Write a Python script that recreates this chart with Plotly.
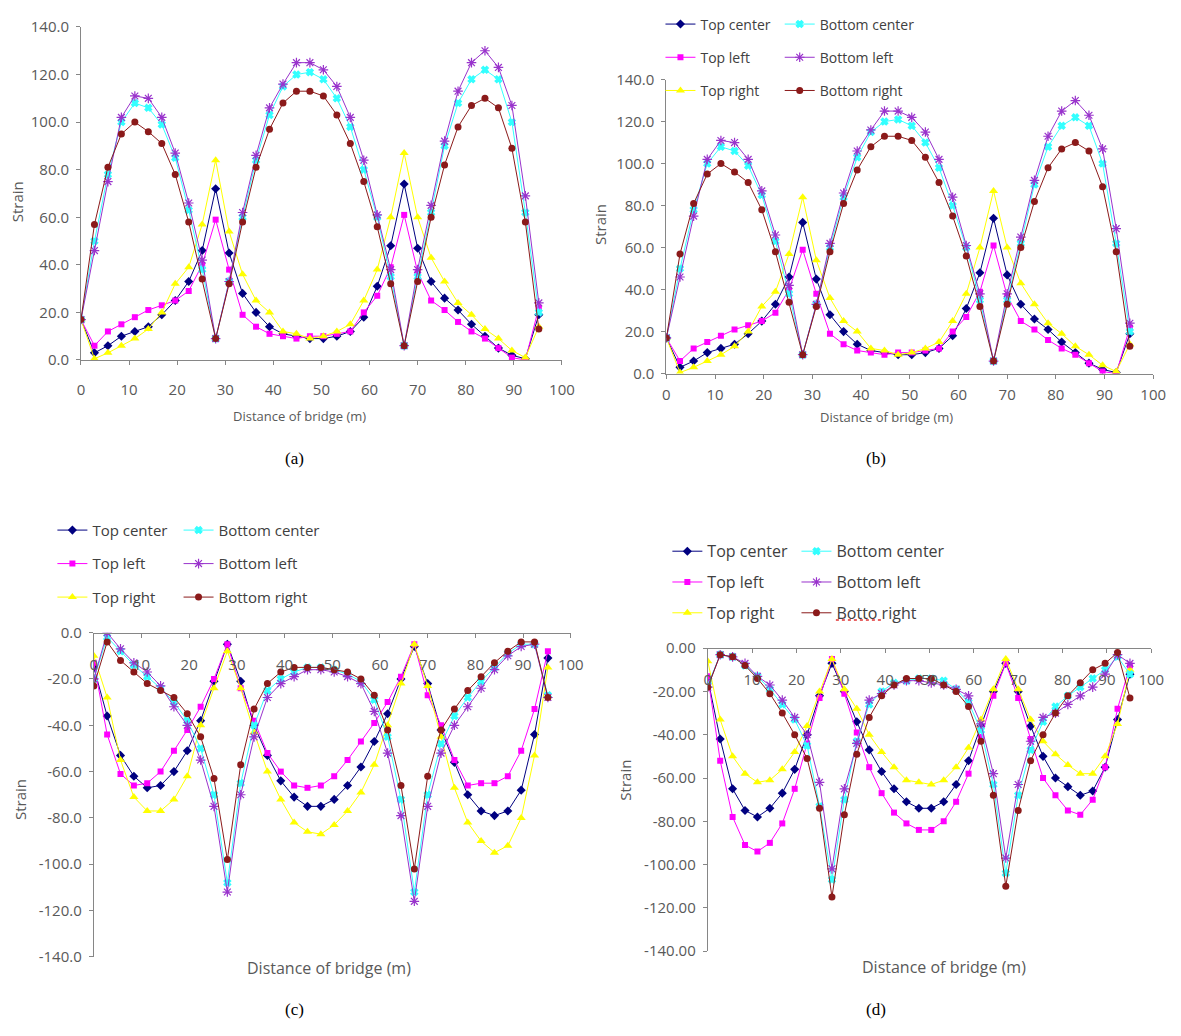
import plotly.graph_objects as go

# browser body margin (8px) is compensated for in the pixel helpers
OFF = 8
W, H = 1181 - OFF, 1036 - OFF

# ---------------- data ----------------
x_pos = [0, 2.8, 5.6, 8.4, 11.2, 14.0, 16.8, 19.6, 22.4, 25.2, 28.0, 30.8, 33.6, 36.4, 39.2,
         42.0, 44.8, 47.6, 50.4, 53.2, 56.0, 58.8, 61.6, 64.4, 67.2, 70.0, 72.8, 75.6, 78.4,
         81.2, 84.0, 86.8, 89.6, 92.4, 95.2]

series_names = ["Top center", "Top left", "Top right", "Bottom center", "Bottom left", "Bottom right"]
series_names_d = ["Top center", "Top left", "Top right", "Bottom center", "Bottom left", "Botto right"]

# panel (a)
a_top_center = [17, 3, 6, 10, 12, 14, 19, 25, 33, 46, 72, 45, 28, 20, 14, 11, 10, 9, 9, 10, 12,
                18, 31, 48, 74, 47, 33, 26, 21, 15, 10, 5, 2, 0.5, 19]
a_top_left = [17, 6, 12, 15, 18, 21, 23, 25, 29, 40, 59, 38, 19, 14, 11, 10, 9, 10, 10, 11, 12,
              20, 27, 39, 61, 37, 25, 21, 16, 12, 9, 5, 1, 0, 22]
a_top_right = [17, 0.5, 3, 6, 9, 13, 20, 32, 39, 57, 84, 54, 36, 25, 20, 12, 11, 9, 10, 12, 15,
               25, 38, 60, 87, 60, 43, 33, 24, 19, 13, 9, 4, 1, 14]
a_bottom_center = [17, 50, 78, 100, 108, 106, 99, 85, 63, 38, 9, 33, 60, 84, 103, 115, 120, 121,
                   118, 110, 98, 80, 60, 35, 6, 35, 62, 90, 108, 118, 122, 118, 100, 62, 20]
a_bottom_left = [17, 46, 75, 102, 111, 110, 102, 87, 66, 42, 9, 33, 62, 86, 106, 116, 125, 125,
                 122, 115, 102, 84, 61, 38, 6, 38, 65, 92, 113, 125, 130, 123, 107, 69, 24]
a_bottom_right = [17, 57, 81, 95, 100, 96, 91, 78, 58, 34, 9, 32, 58, 81, 97, 108, 113, 113, 111,
                  103, 91, 75, 56, 32, 6, 33, 60, 82, 98, 107, 110, 106, 89, 58, 13]

# panel (b)
b_top_center = [17, 3, 6, 10, 12, 14, 19, 25, 33, 46, 72, 45, 28, 20, 14, 11, 10, 9, 9, 10, 12,
                18, 31, 48, 74, 47, 33, 26, 21, 15, 10, 5, 2, 0.5, 19]
b_top_left = [17, 6, 12, 15, 18, 21, 23, 25, 29, 40, 59, 38, 19, 14, 11, 10, 9, 10, 10, 11, 12,
              20, 27, 39, 61, 37, 25, 21, 16, 12, 9, 5, 1, 0, 22]
b_top_right = [17, 0.5, 3, 6, 9, 13, 20, 32, 39, 57, 84, 54, 36, 25, 20, 12, 11, 9, 10, 12, 15,
               25, 38, 60, 87, 60, 43, 33, 24, 19, 13, 9, 4, 1, 14]
b_bottom_center = [17, 50, 78, 100, 108, 106, 99, 85, 63, 38, 9, 33, 60, 84, 103, 115, 120, 121,
                   118, 110, 98, 80, 60, 35, 6, 35, 62, 90, 108, 118, 122, 118, 100, 62, 20]
b_bottom_left = [17, 46, 75, 102, 111, 110, 102, 87, 66, 42, 9, 33, 62, 86, 106, 116, 125, 125,
                 122, 115, 102, 84, 61, 38, 6, 38, 65, 92, 113, 125, 130, 123, 107, 69, 24]
b_bottom_right = [17, 57, 81, 95, 100, 96, 91, 78, 58, 34, 9, 32, 58, 81, 97, 108, 113, 113, 111,
                  103, 91, 75, 56, 32, 6, 33, 60, 82, 98, 107, 110, 106, 89, 58, 13]

# panel (c)
c_top_center = [-15, -36, -53, -62, -67, -66, -60, -51, -38, -21, -5, -21, -40, -53, -64, -71,
                -75, -75, -72, -66, -58, -47, -35, -20, -6, -22, -42, -56, -70, -77, -79, -77,
                -68, -44, -11]
c_top_left = [-13, -44, -61, -66, -65, -60, -51, -42, -32, -20, -5, -24, -38, -52, -60, -66, -67,
              -66, -62, -55, -47, -39, -30, -19, -5, -27, -40, -55, -66, -65, -65, -62, -51, -33, -8]
c_top_right = [-10, -28, -55, -71, -77, -77, -72, -62, -40, -24, -8, -24, -43, -60, -72, -82, -86,
               -87, -83, -77, -69, -57, -40, -22, -5, -23, -45, -67, -82, -90, -95, -92, -80, -53, -15]
c_bottom_center = [-20, -2, -8, -14, -19, -24, -30, -38, -50, -70, -108, -65, -40, -25, -20, -17,
                   -15, -15, -16, -18, -21, -29, -45, -72, -112, -70, -48, -36, -28, -21, -15, -9,
                   -5, -5, -27]
c_bottom_left = [-20, 0, -7, -13, -17, -23, -32, -40, -55, -75, -112, -70, -45, -28, -22, -19,
                 -16, -16, -17, -19, -22, -34, -52, -79, -116, -75, -52, -40, -32, -24, -16, -10,
                 -6, -5, -28]
c_bottom_right = [-23, -4, -12, -17, -22, -25, -28, -35, -45, -63, -98, -57, -33, -22, -17, -15,
                  -15, -15, -16, -17, -20, -27, -42, -66, -102, -62, -42, -33, -25, -19, -13, -8,
                  -4, -4, -28]

# panel (d)
d_top_center = [-14, -42, -65, -75, -78, -74, -67, -56, -40, -22, -7, -20, -34, -47, -57, -65,
                -71, -74, -74, -71, -63, -52, -36, -20, -7, -20, -36, -50, -60, -64, -68, -66,
                -55, -33, -12]
d_top_left = [-13, -52, -78, -91, -94, -90, -81, -65, -44, -23, -5, -21, -39, -55, -67, -76, -81,
              -84, -84, -80, -71, -58, -41, -22, -7, -23, -42, -60, -68, -75, -77, -70, -55, -28, -8]
d_top_right = [-6, -33, -50, -58, -62, -61, -56, -48, -36, -20, -5, -19, -28, -40, -48, -55, -61,
               -62, -63, -61, -55, -46, -33, -19, -5, -19, -33, -43, -49, -54, -58, -58, -50, -35, -10]
d_bottom_center = [-17, -3, -4, -8, -13, -19, -26, -33, -45, -73, -107, -70, -43, -26, -20, -16,
                   -15, -14, -14, -15, -19, -25, -38, -63, -104, -68, -47, -34, -27, -22, -18,
                   -14, -10, -4, -12]
d_bottom_left = [-18, -3, -4, -7, -13, -17, -24, -32, -40, -62, -102, -65, -44, -24, -21, -17,
                 -15, -15, -16, -17, -19, -22, -35, -58, -97, -63, -43, -32, -30, -26, -22, -18,
                 -12, -3, -7]
d_bottom_right = [-18, -3, -4, -8, -14, -21, -30, -40, -51, -74, -115, -77, -49, -32, -22, -17,
                  -14, -14, -14, -17, -20, -27, -43, -68, -110, -75, -52, -40, -30, -22, -16, -10,
                  -7, -2, -23]

x_ticks = [0, 10, 20, 30, 40, 50, 60, 70, 80, 90, 100]
x_ticktext = ["0", "10", "20", "30", "40", "50", "60", "70", "80", "90", "100"]
y_ticks_pos = [0, 20, 40, 60, 80, 100, 120, 140]
y_ticktext_pos = ["0.0", "20.0", "40.0", "60.0", "80.0", "100.0", "120.0", "140.0"]
y_ticks_neg = [0, -20, -40, -60, -80, -100, -120, -140]
y_ticktext_neg1 = ["0.0", "-20.0", "-40.0", "-60.0", "-80.0", "-100.0", "-120.0", "-140.0"]
y_ticktext_neg2 = ["0.00", "-20.00", "-40.00", "-60.00", "-80.00", "-100.00", "-120.00", "-140.00"]

x_title = "Distance of bridge (m)"
y_title = "Strain"
captions = ["(a)", "(b)", "(c)", "(d)"]

# ---------------- styles ----------------
styles = [
    dict(color="#000080", symbol="diamond", size=7, lw=1),
    dict(color="#FF00FF", symbol="square", size=6, lw=1),
    dict(color="#FFFF00", symbol="triangle-up", size=8, lw=1),
    dict(color="#33FFFF", symbol="x", size=6, lw=1),
    dict(color="#9933CC", symbol="asterisk-open", size=8, lw=1),
    dict(color="#8B1A1A", symbol="circle", size=7, lw=1),
]


def px(x):
    return (x - OFF) / W


def py(y):
    return 1 - (y - OFF) / H


# panel geometry in (reference) pixels: x at 0, x at 100, y top, y bottom
geo = {
    "a": (78, 566, 9, 351),
    "b": (672, 1166, 63, 365),
    "c": (91, 575, 631, 964),
    "d": (714, 1164, 647, 958),
}
xlab_standoff = {"a": 12, "b": 3, "c": 14, "d": 14}

panels = [
    ("a", [a_top_center, a_top_left, a_top_right, a_bottom_center, a_bottom_left, a_bottom_right],
     series_names, None),
    ("b", [b_top_center, b_top_left, b_top_right, b_bottom_center, b_bottom_left, b_bottom_right],
     series_names, ("legend", "legend2")),
    ("c", [c_top_center, c_top_left, c_top_right, c_bottom_center, c_bottom_left, c_bottom_right],
     series_names, ("legend3", "legend4")),
    ("d", [d_top_center, d_top_left, d_top_right, d_bottom_center, d_bottom_left, d_bottom_right],
     series_names_d, ("legend5", "legend6")),
]

fig = go.Figure()

for k, (key, data, names, legs) in enumerate(panels):
    xa = "x" if k == 0 else f"x{k+1}"
    ya = "y" if k == 0 else f"y{k+1}"
    for i, (vals, name) in enumerate(zip(data, names)):
        st = styles[i]
        marker = dict(symbol=st["symbol"], size=st["size"], color=st["color"])
        if st["symbol"] in ("asterisk-open", "x"):
            marker["line"] = dict(color=st["color"], width=1.2)
        tr = dict(
            x=x_pos, y=vals, mode="lines+markers", name=name,
            line=dict(color=st["color"], width=st["lw"]),
            marker=marker, xaxis=xa, yaxis=ya,
            legendgroup=f"{key}-{i}",
        )
        if legs is None:
            tr["showlegend"] = False
        else:
            tr["legend"] = legs[0] if i < 3 else legs[1]
        fig.add_trace(go.Scatter(**tr))

tick_font = dict(family="Open Sans", size=15, color="#595959")
axis_common = dict(showline=True, linecolor="#868686", linewidth=1, showgrid=False,
                   zeroline=False, ticks="outside", ticklen=4, tickcolor="#868686",
                   tickfont=tick_font)

layout = dict(width=W, height=H, margin=dict(l=0, r=0, t=0, b=0),
              paper_bgcolor="white", plot_bgcolor="white", showlegend=True)

for k, key in enumerate(["a", "b", "c", "d"]):
    x0, x1, yt, yb = geo[key]
    xname = "xaxis" if k == 0 else f"xaxis{k+1}"
    yname = "yaxis" if k == 0 else f"yaxis{k+1}"
    ya = "y" if k == 0 else f"y{k+1}"
    xa = "x" if k == 0 else f"x{k+1}"
    xd = [px(x0), px(x1)]
    yd = [py(yb), py(yt)]
    xax = dict(axis_common, domain=xd, range=[0, 100], tickvals=x_ticks, ticktext=x_ticktext,
               ticklabelstandoff=xlab_standoff[key])
    if key in ("a", "b"):
        xax.update(anchor=ya)
        yax = dict(axis_common, domain=yd, range=[0, 140], tickvals=y_ticks_pos,
                   ticktext=y_ticktext_pos, anchor=xa, ticklabelstandoff=4)
    else:
        xax.update(anchor="free", position=yd[1], side="bottom")
        yax = dict(axis_common, domain=yd, range=[-140, 0], tickvals=y_ticks_neg,
                   ticktext=(y_ticktext_neg1 if key == "c" else y_ticktext_neg2),
                   anchor=xa, ticklabelstandoff=4)
    layout[xname] = xax
    layout[yname] = yax


def legend_at(text_x, ytop, size, gap):
    return dict(x=px(text_x - 40), y=py(ytop), xanchor="left", yanchor="top", orientation="v",
                bgcolor="rgba(0,0,0,0)", borderwidth=0,
                font=dict(family="Open Sans", size=size, color="#404040"),
                tracegroupgap=gap, itemwidth=30)


layout["legend"] = legend_at(706, -10, 14, 12)
layout["legend2"] = legend_at(827, -10, 14, 12)
layout["legend3"] = legend_at(89, 509, 15, 11)
layout["legend4"] = legend_at(217, 509, 15, 11)
layout["legend5"] = legend_at(713, 530, 16, 7)
layout["legend6"] = legend_at(844, 530, 16, 7)

fig.update_layout(**layout)

anns = []
for (xx, yy, sz) in [(300, 409, 13), (895, 410, 13), (330, 975, 16), (954, 974, 16)]:
    anns.append(dict(x=px(xx), y=py(yy), xref="paper", yref="paper", text=x_title,
                     showarrow=False, font=dict(family="Open Sans", size=sz, color="#595959"),
                     xanchor="center", yanchor="middle"))
for (xx, yy) in [(13, 188), (604, 212), (16, 802), (630, 782)]:
    anns.append(dict(x=px(xx), y=py(yy), xref="paper", yref="paper", text=y_title,
                     showarrow=False, font=dict(family="Open Sans", size=15, color="#595959"),
                     textangle=-90, xanchor="center", yanchor="middle"))
for txt, (xx, yy) in zip(captions, [(295, 452), (885, 452), (295, 1018), (885, 1018)]):
    anns.append(dict(x=px(xx), y=py(yy), xref="paper", yref="paper", text=txt,
                     showarrow=False, font=dict(family="Liberation Serif", size=17, color="black"),
                     xanchor="center", yanchor="middle"))
fig.update_layout(annotations=anns)

# spell-check squiggle under "Botto"
fig.add_shape(type="line", xref="paper", yref="paper", x0=px(844), x1=px(890),
              y0=py(618), y1=py(618), line=dict(color="#E03030", width=1.5, dash="dot"))

fig.write_html("out.html")
